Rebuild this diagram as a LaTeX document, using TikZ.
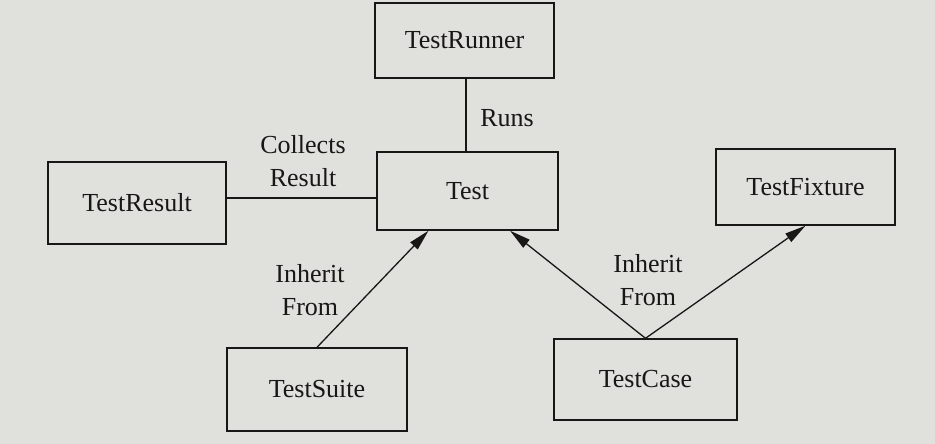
\documentclass[tikz,border=0pt]{standalone}
\usepackage{fontspec}
\setmainfont{Liberation Serif}
\usetikzlibrary{arrows.meta}
\definecolor{paper}{RGB}{224,224,221}
\definecolor{ink}{RGB}{25,22,22}
\begin{document}
\begin{tikzpicture}[x=1pt,y=-1pt,
  box/.style={draw=ink,line width=1.4pt,fill=paper,inner sep=0pt,
    font=\fontsize{26}{30}\selectfont,text=ink},
  lbl/.style={font=\fontsize{26}{33}\selectfont,text=ink,align=center,inner sep=0pt},
  conn/.style={draw=ink,line width=1.3pt},
  arr/.style={conn,-{Triangle[length=21pt,width=10pt]}}]
\fill[paper] (0,0) rectangle (935,444);
\useasboundingbox (0,0) rectangle (935,444);
\node[box,minimum width=179pt,minimum height=75pt] (runner) at (464.5,40.5) {TestRunner};
\node[box,minimum width=181pt,minimum height=78pt] (test) at (467.5,191) {Test};
\node[box,minimum width=178pt,minimum height=82pt] (result) at (137,203) {TestResult};
\node[box,minimum width=179pt,minimum height=76pt] (fixture) at (805.5,187) {TestFixture};
\node[box,minimum width=180pt,minimum height=83pt] (suite) at (317,389.5) {TestSuite};
\node[box,minimum width=183pt,minimum height=81pt] (case) at (645.5,379.5) {TestCase};
\draw[conn] ([xshift=1.5pt]runner.south) -- ([xshift=1.5pt]runner.south |- test.north);
\draw[conn] ([yshift=5pt]result.east) -- ([yshift=5pt]result.east -| test.west);
\draw[arr] (suite.north) -- ([xshift=-39pt]test.south);
\draw[arr] (case.north) -- ([xshift=42.5pt]test.south);
\draw[arr] (case.north) -- (fixture.south);
\node[lbl] (runs) at (507,118) {Runs};
\node[lbl] (collects) at (303,161) {Collects\\Result};
\node[lbl] (inh1) at (310,290) {Inherit\\From};
\node[lbl] (inh2) at (648,280) {Inherit\\From};
\end{tikzpicture}
\end{document}
